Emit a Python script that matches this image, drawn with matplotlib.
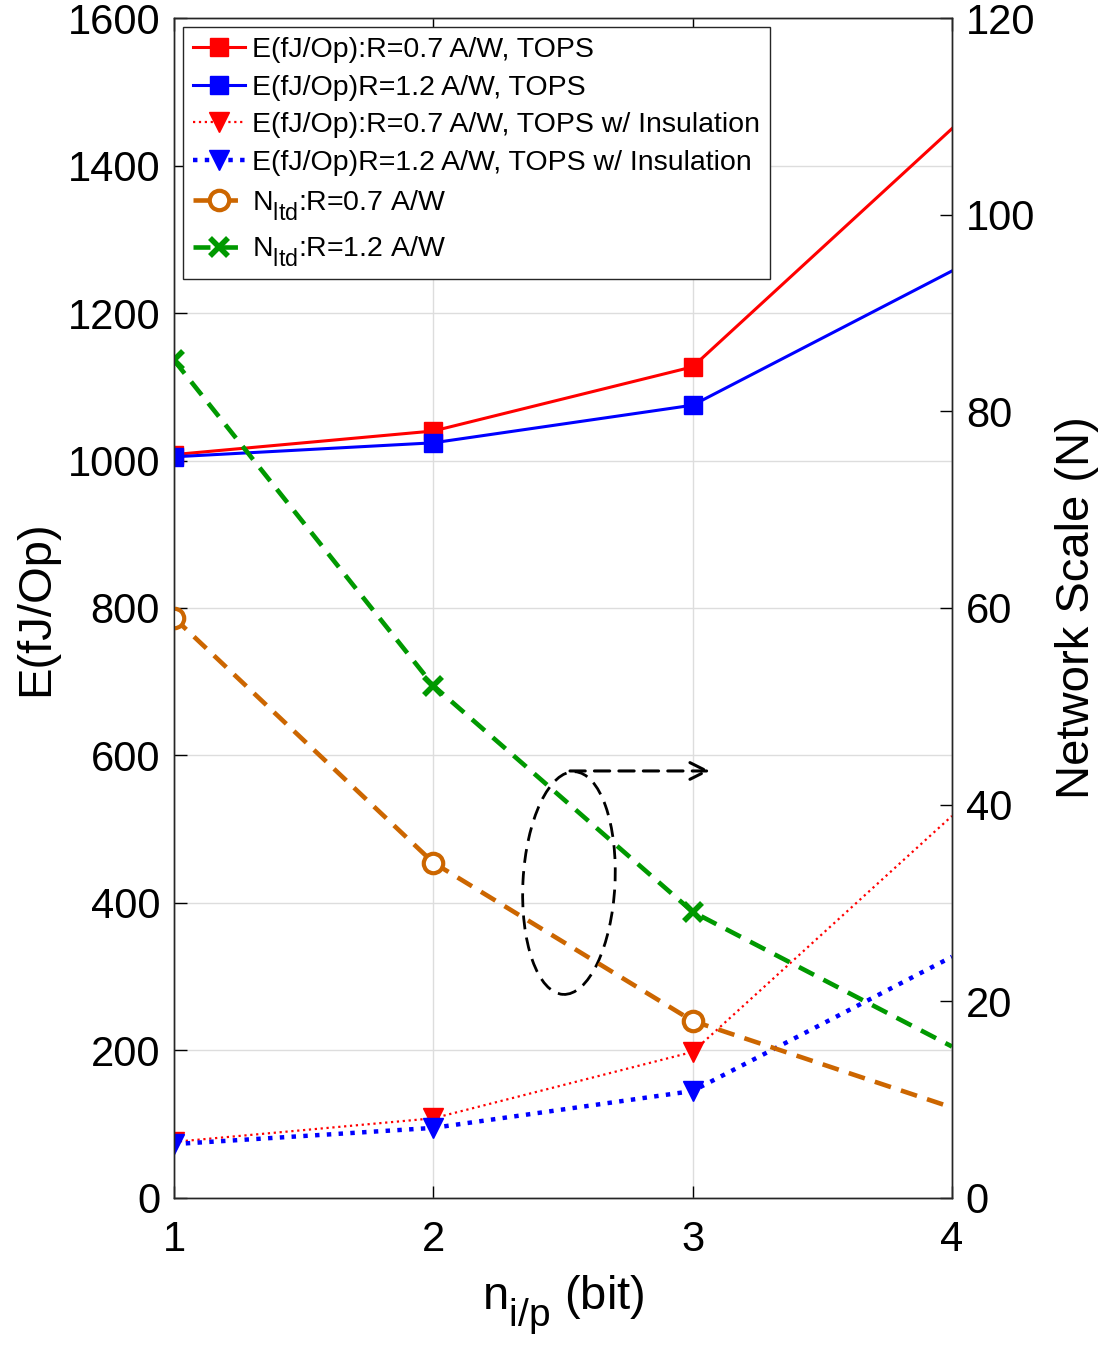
import matplotlib
matplotlib.use("Agg")
import matplotlib.pyplot as plt
from matplotlib.patches import Ellipse
from matplotlib.transforms import IdentityTransform

# MATLAB-like larger, lower subscripts
try:
    import matplotlib._mathtext as _mt
    _mt.SHRINK_FACTOR = 0.82
    _mt.FontConstantsBase.sub1 = 0.7
except Exception:
    pass

plt.rcParams['font.family'] = ['Liberation Sans', 'DejaVu Sans']
plt.rcParams['mathtext.fontset'] = 'custom'
plt.rcParams['mathtext.rm'] = 'Liberation Sans'
plt.rcParams['mathtext.it'] = 'Liberation Sans:italic'

# ---- data ----
n_bits = [1, 2, 3, 4]
E_tops_r07 = [1008, 1040, 1127, 1450]
E_tops_r12 = [1005, 1024, 1075, 1257]
E_ins_r07 = [76, 108, 198, 518]
E_ins_r12 = [73, 95, 145, 327]
N_ltd_r07 = [59.0, 34.1, 18.0, 9.2]
N_ltd_r12 = [85.2, 52.1, 29.1, 15.4]

labels = ['E(fJ/Op):R=0.7 A/W, TOPS',
          'E(fJ/Op)R=1.2 A/W, TOPS',
          'E(fJ/Op):R=0.7 A/W, TOPS w/ Insulation',
          'E(fJ/Op)R=1.2 A/W, TOPS w/ Insulation',
          r'N$_{\mathrm{ltd}}$:R=0.7 A/W',
          r'N$_{\mathrm{ltd}}$:R=1.2 A/W']
x_ticks = [1, 2, 3, 4]
yl_ticks = [0, 200, 400, 600, 800, 1000, 1200, 1400, 1600]
yr_ticks = [0, 20, 40, 60, 80, 100, 120]

ORANGE = '#CC6600'
GREEN = '#009900'
mk = [0, 1, 2]

fig = plt.figure(figsize=(11.09, 13.46), dpi=100)
ax = fig.add_axes([0.1569, 0.11, 0.8584 - 0.1569, 0.9866 - 0.11])
ax2 = ax.twinx()

h1, = ax.plot(n_bits, E_tops_r07, '-', color='red', lw=2.2, marker='s', ms=13,
              markevery=mk, label=labels[0])
h2, = ax.plot(n_bits, E_tops_r12, '-', color='blue', lw=2.2, marker='s', ms=13,
              markevery=mk, label=labels[1])
h3, = ax.plot(n_bits, E_ins_r07, ':', color='red', lw=1.6, marker='v', ms=15,
              markevery=mk, label=labels[2])
h4, = ax.plot(n_bits, E_ins_r12, ':', color='blue', lw=3.2, marker='v', ms=15,
              markevery=mk, label=labels[3])
h5, = ax2.plot(n_bits, N_ltd_r07, '--', color=ORANGE, lw=3.3, marker='o', ms=14,
               mfc='white', mec=ORANGE, mew=3, markevery=mk, dashes=(3.7, 2.3),
               label=labels[4])
h6, = ax2.plot(n_bits, N_ltd_r12, '--', color=GREEN, lw=3.3, marker='x', ms=13,
               mew=4, markevery=mk, dashes=(3.7, 2.3), label=labels[5])

ax.set_xlim(1, 4)
ax.set_ylim(0, 1600)
ax2.set_ylim(0, 120)
ax.set_xticks(x_ticks)
ax.set_yticks(yl_ticks)
ax2.set_yticks(yr_ticks)
ax.grid(True, color='#dddddd', lw=1.0)
ax.set_axisbelow(True)

for a in (ax, ax2):
    for s in a.spines.values():
        s.set_color('#262626')
        s.set_linewidth(1.0)
ax.tick_params(axis='both', direction='in', length=9, width=1.0, labelsize=30,
               top=True, colors='black')
ax.tick_params(axis='y', pad=10)
ax.tick_params(axis='x', pad=16)
ax2.tick_params(axis='y', direction='in', length=9, width=1.0, labelsize=30,
                pad=10, colors='black')

ax.set_ylabel('E(fJ/Op)', fontsize=34, labelpad=7)
ax2.set_ylabel('Network Scale (N)', fontsize=34, labelpad=14)
ax.set_xlabel(r'n$_{\mathrm{i/p}}$ (bit)', fontsize=34, labelpad=10)

# annotation: dashed ellipse (sized in pixels) + arrow pointing to right axis
ctr = ax.transData.transform((2.523, 427))
ell = Ellipse(ctr, width=92, height=223, angle=-3, fill=False,
              ls=(0, (5, 3)), lw=2.0, color='black', zorder=5,
              transform=IdentityTransform())
ax.add_artist(ell)
ax.annotate('', xy=(3.067, 579), xytext=(2.527, 579),
            arrowprops=dict(arrowstyle='->', ls=(0, (5, 3)), lw=2.2,
                            color='black', mutation_scale=30,
                            shrinkA=0, shrinkB=0), zorder=5)

leg = ax2.legend(handles=[h1, h2, h3, h4, h5, h6], loc='upper left',
                 fontsize=20.5, frameon=True, fancybox=False,
                 edgecolor='#262626', framealpha=1, borderaxespad=0.3,
                 handlelength=1.85, handletextpad=0.25, labelspacing=0.42,
                 borderpad=0.35)
leg.get_frame().set_linewidth(1.0)

fig.savefig('out.png', dpi=100)
